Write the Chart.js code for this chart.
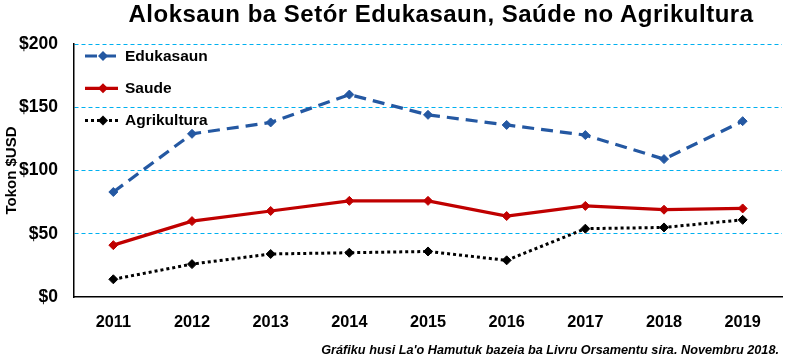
<!DOCTYPE html>
<html>
<head>
<meta charset="utf-8">
<script src="https://cdn.jsdelivr.net/npm/chart.js@4/dist/chart.umd.min.js"></script>
<style>
  html, body { margin: 0; padding: 0; background: #fff; }
  #wrap { position: relative; width: 785px; height: 362px; }
  #title {
    position: absolute; left: 97px; width: 688px; top: 0px;
    text-align: center; font: bold 24px "Liberation Sans", sans-serif; color: #000;
    letter-spacing: 0.5px; white-space: nowrap;
  }
  #note {
    position: absolute; right: 6px; top: 343px; white-space: nowrap;
    font: italic bold 12.7px "Liberation Sans", sans-serif; color: #000;
  }
</style>
</head>
<body>
<div id="wrap">
  <canvas id="chart" width="785" height="362"></canvas>
  <div id="title">Aloksaun ba Setór Edukasaun, Saúde no Agrikultura</div>
  <div id="note">Gráfiku husi La'o Hamutuk bazeia ba Livru Orsamentu sira. Novembru 2018.</div>
</div>
<script>
const years = ['2011', '2012', '2013', '2014', '2015', '2016', '2017', '2018', '2019'];
const edukasaun = [83, 129, 138, 160, 144, 136, 128, 109, 139];
const saude = [41, 60, 68, 76, 76, 64, 72, 69, 70];
const agrikultura = [14, 26, 34, 35, 36, 29, 54, 55, 61];
const yTicks = [0, 50, 100, 150, 200];

const FONT = '"Liberation Sans", Arial, sans-serif';

// legend drawn inside the plot, top-left, like the original
const insideLegend = {
  id: 'insideLegend',
  afterDraw(chart) {
    const ctx = chart.ctx;
    const x0 = chart.chartArea.left + 11;
    let y = chart.chartArea.top + 12;
    chart.data.datasets.forEach((ds) => {
      ctx.save();
      ctx.strokeStyle = ds.borderColor;
      ctx.lineWidth = ds.borderWidth;
      ctx.setLineDash(ds.borderDash || []);
      ctx.beginPath();
      ctx.moveTo(x0, y);
      ctx.lineTo(x0 + 33, y);
      ctx.stroke();
      ctx.setLineDash([]);
      const r = ds.pointRadius + 0.5;
      const cx = x0 + 18;
      ctx.fillStyle = ds.pointBackgroundColor;
      ctx.beginPath();
      ctx.moveTo(cx, y - r);
      ctx.lineTo(cx + r, y);
      ctx.lineTo(cx, y + r);
      ctx.lineTo(cx - r, y);
      ctx.closePath();
      ctx.fill();
      ctx.fillStyle = '#000';
      ctx.font = 'bold 15.5px ' + FONT;
      ctx.textBaseline = 'middle';
      ctx.fillText(ds.label, x0 + 40, y + 0.5);
      ctx.restore();
      y += 32.3;
    });
  }
};

const ctx = document.getElementById('chart').getContext('2d');

new Chart(ctx, {
  type: 'line',
  data: {
    labels: years,
    datasets: [
      {
        label: 'Edukasaun',
        data: edukasaun,
        borderColor: '#2458A2',
        backgroundColor: '#2458A2',
        pointBackgroundColor: '#2458A2',
        pointBorderColor: '#2458A2',
        borderWidth: 3.2,
        borderDash: [12, 7],
        pointStyle: 'rectRot',
        pointRadius: 4.5,
        pointBorderWidth: 1,
        tension: 0,
      },
      {
        label: 'Saude',
        data: saude,
        borderColor: '#C00000',
        backgroundColor: '#C00000',
        pointBackgroundColor: '#C00000',
        pointBorderColor: '#C00000',
        borderWidth: 3.2,
        pointStyle: 'rectRot',
        pointRadius: 4.5,
        pointBorderWidth: 1,
        tension: 0,
      },
      {
        label: 'Agrikultura',
        data: agrikultura,
        borderColor: '#000000',
        backgroundColor: '#000000',
        pointBackgroundColor: '#000000',
        pointBorderColor: '#000000',
        borderWidth: 3,
        borderDash: [3, 3],
        pointStyle: 'rectRot',
        pointRadius: 4.5,
        pointBorderWidth: 1,
        tension: 0,
      }
    ]
  },
  options: {
    responsive: false,
    animation: false,
    layout: { autoPadding: false, padding: { top: 44, right: 3, left: 0, bottom: 0 } },
    plugins: {
      legend: { display: false },
      tooltip: { enabled: false }
    },
    scales: {
      x: {
        offset: true,
        grid: { display: false, drawTicks: false },
        border: { color: '#000', width: 1.5 },
        ticks: { color: '#000', padding: 16, font: { family: FONT, size: 16.3, weight: 'bold' } },
        afterFit(scale) {
          scale.height = 65;
          scale.paddingLeft = 0;
          scale.paddingRight = 0;
        }
      },
      y: {
        min: 0,
        max: 200,
        afterBuildTicks(scale) { scale.ticks = yTicks.map(v => ({ value: v })); },
        grid: {
          drawTicks: false,
          color: (c) => (c.tick && c.tick.value === 0 ? 'rgba(0,0,0,0)' : '#00B0F0'),
          lineWidth: 1
        },
        border: { color: '#000', width: 1.5, dash: [4, 3] },
        ticks: {
          color: '#000',
          padding: 16,
          font: { family: FONT, size: 17.5, weight: 'bold' },
          callback: (v) => '$' + v
        },
        title: {
          display: true,
          text: 'Tokon $USD',
          color: '#000',
          padding: { top: 3, bottom: 0 },
          font: { family: FONT, size: 15, weight: 'bold' }
        },
        afterFit(scale) { scale.width = 74; }
      }
    }
  },
  plugins: [insideLegend]
});
</script>
</body>
</html>
